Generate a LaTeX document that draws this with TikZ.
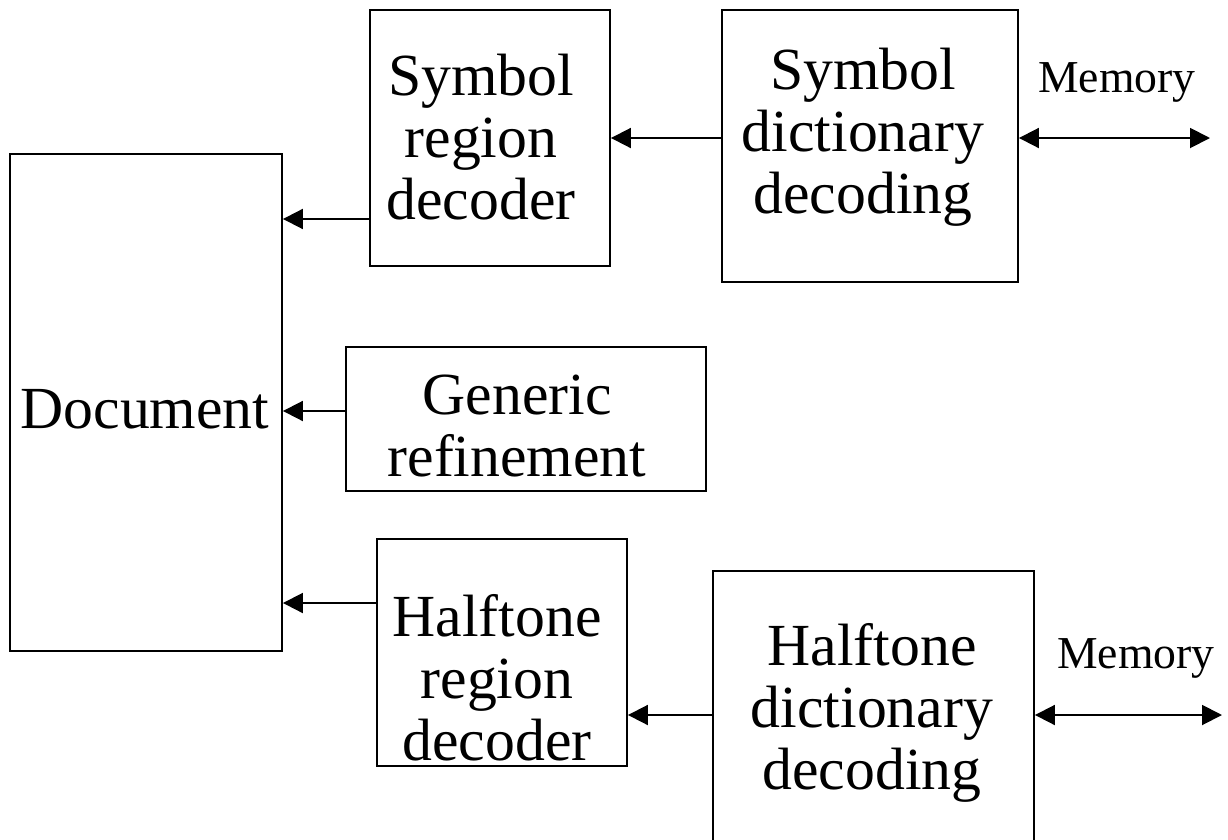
\documentclass[tikz,border=0pt]{standalone}
\usepackage{fontspec}
\setmainfont{Liberation Serif}
\usetikzlibrary{arrows.meta,positioning,calc}

\begin{document}
\begin{tikzpicture}[x=0.02cm,y=-0.02cm,line width=1.1pt,
    >={Triangle[length=0.4cm,width=0.4cm]},
    blockbox/.style={draw,inner sep=0pt},
    blocktext/.style={align=center,inner sep=0pt,font=\fontsize{34}{35.3}\selectfont},
    memtext/.style={inner sep=0pt,font=\fontsize{26}{28}\selectfont}]
  \clip (0,0) rectangle (1228,839);

  % boxes
  \node[blockbox,minimum width=5.44cm,minimum height=9.94cm] (doc) at (146,402.5) {};
  \node[blockbox,minimum width=4.8cm,minimum height=5.12cm] (srd) at (490,138) {};
  \node[blockbox,minimum width=5.92cm,minimum height=5.44cm] (sdd) at (870,146) {};
  \node[blockbox,minimum width=7.2cm,minimum height=2.88cm] (gr) at (526,419) {};
  \node[blockbox,minimum width=5.0cm,minimum height=4.54cm] (hrd) at (502,652.5) {};
  \node[blockbox,minimum width=6.42cm,minimum height=5.58cm] (hdd) at (873.5,710.5) {};

  % texts
  \node[blocktext] (doctext) at (145,409) {Document};
  \node[blocktext] (srdtext) at (481,137) {Symbol\\region\\decoder};
  \node[blocktext] (sddtext) at (863,137) {Symbol\\dictionary\\decoding};
  \node[blocktext] (grtext) at (517,426) {Generic\\refinement};
  \node[blocktext] (hrdtext) at (497,678) {Halftone\\region\\decoder};
  \node[blocktext] (hddtext) at (872,713) {Halftone\\dictionary\\decoding};
  \node[memtext] (memtop) at (1117,82) {Memory};
  \node[memtext] (membot) at (1136,658) {Memory};

  % into the document
  \coordinate (srdout) at ([yshift=-1.62cm]srd.west);
  \coordinate (grout) at ([yshift=0.16cm]gr.west);
  \coordinate (hrdout) at ([yshift=0.99cm]hrd.west);
  \draw[->] (srdout) -- (srdout -| doc.east);
  \draw[->] (grout) -- (grout -| doc.east);
  \draw[->] (hrdout) -- (hrdout -| doc.east);

  % dictionaries
  \coordinate (sddout) at ([yshift=0.16cm]sdd.west);
  \coordinate (hddout) at ([yshift=-0.09cm]hdd.west);
  \draw[->] (sddout) -- (sddout -| srd.east);
  \draw[->] (hddout) -- (hddout -| hrd.east);

  % memory
  \coordinate (sddmem) at ([yshift=0.16cm]sdd.east);
  \coordinate (hddmem) at ([yshift=-0.09cm]hdd.east);
  \coordinate (memtopend) at (1210,138);
  \coordinate (membotend) at (1222,715);
  \draw[<->] (sddmem) -- (memtopend);
  \draw[<->] (hddmem) -- (membotend);
\end{tikzpicture}
\end{document}
